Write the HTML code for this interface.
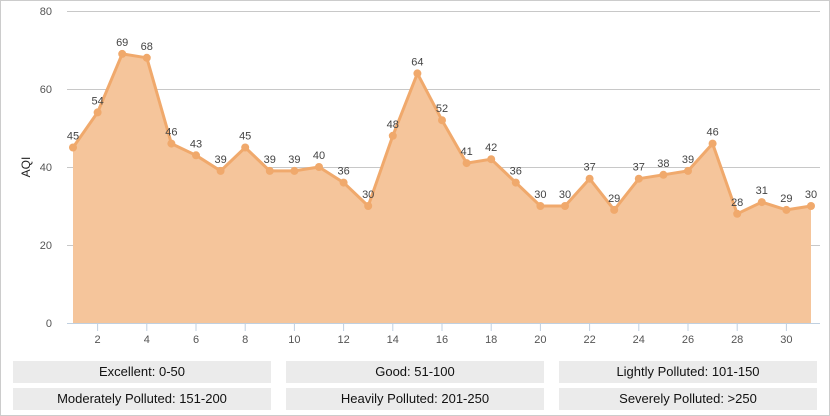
<!DOCTYPE html><html><head><style>
body{margin:0;width:830px;height:416px;background:#fff;overflow:hidden;font-family:"Liberation Sans",Arial,sans-serif}
.frame{position:absolute;left:0;top:0;width:828px;height:414px;border:1px solid #ccc}
.lg{position:absolute;height:22px;line-height:22px;background:#ebebeb;text-align:center;font-size:13px;color:#111;width:258px}
</style></head><body><div class="frame"></div>
<svg width="830" height="416" style="position:absolute;left:0;top:0" font-family="Liberation Sans, Arial, sans-serif">
<g stroke="#c8c8c8" stroke-width="1">
<line x1="67" x2="820" y1="11.5" y2="11.5"/><line x1="67" x2="820" y1="89.5" y2="89.5"/><line x1="67" x2="820" y1="167.5" y2="167.5"/><line x1="67" x2="820" y1="245.5" y2="245.5"/>
</g>
<g font-size="11" fill="#555" text-anchor="end">
<text x="52" y="15">80</text><text x="52" y="93">60</text><text x="52" y="171">40</text><text x="52" y="249">20</text><text x="52" y="327">0</text>
</g>
<text transform="translate(30,167) rotate(-90)" font-size="12" fill="#222" text-anchor="middle">AQI</text>
<g id="c"></g>
<line x1="67" x2="820" y1="323.5" y2="323.5" stroke="#c0d0e0"/>
</svg>
<div class="lg" style="left:13px;top:361px">Excellent: 0-50</div>
<div class="lg" style="left:286px;top:361px">Good: 51-100</div>
<div class="lg" style="left:559px;top:361px">Lightly Polluted: 101-150</div>
<div class="lg" style="left:13px;top:388px">Moderately Polluted: 151-200</div>
<div class="lg" style="left:286px;top:388px">Heavily Polluted: 201-250</div>
<div class="lg" style="left:559px;top:388px">Severely Polluted: &gt;250</div>
<script>
var v=[45,54,69,68,46,43,39,45,39,39,40,36,30,48,64,52,41,42,36,30,30,37,29,37,38,39,46,28,31,29,30];
var X=i=>73+i*24.6,Y=a=>323-a*3.9,s='',p='';
v.forEach((a,i)=>{p+=(i?'L':'M')+X(i).toFixed(1)+' '+Y(a).toFixed(1);});
s+='<path d="'+p+'L'+X(30)+' 323L73 323Z" fill="#f5c59b"/>';
s+='<path d="'+p+'" fill="none" stroke="#f0a96c" stroke-width="3" stroke-linejoin="round"/>';
v.forEach((a,i)=>{s+='<circle cx="'+X(i)+'" cy="'+Y(a)+'" r="4" fill="#f0a96c"/><text x="'+X(i)+'" y="'+(Y(a)-8)+'" font-size="11" fill="#444" text-anchor="middle">'+a+'</text>';});
for(var k=2;k<=30;k+=2){var x=X(k-1);s+='<line x1="'+x+'" x2="'+x+'" y1="323" y2="331" stroke="#c0d0e0"/><text x="'+x+'" y="343" font-size="11" fill="#555" text-anchor="middle">'+k+'</text>';}
document.getElementById('c').innerHTML=s;
</script></body></html>
